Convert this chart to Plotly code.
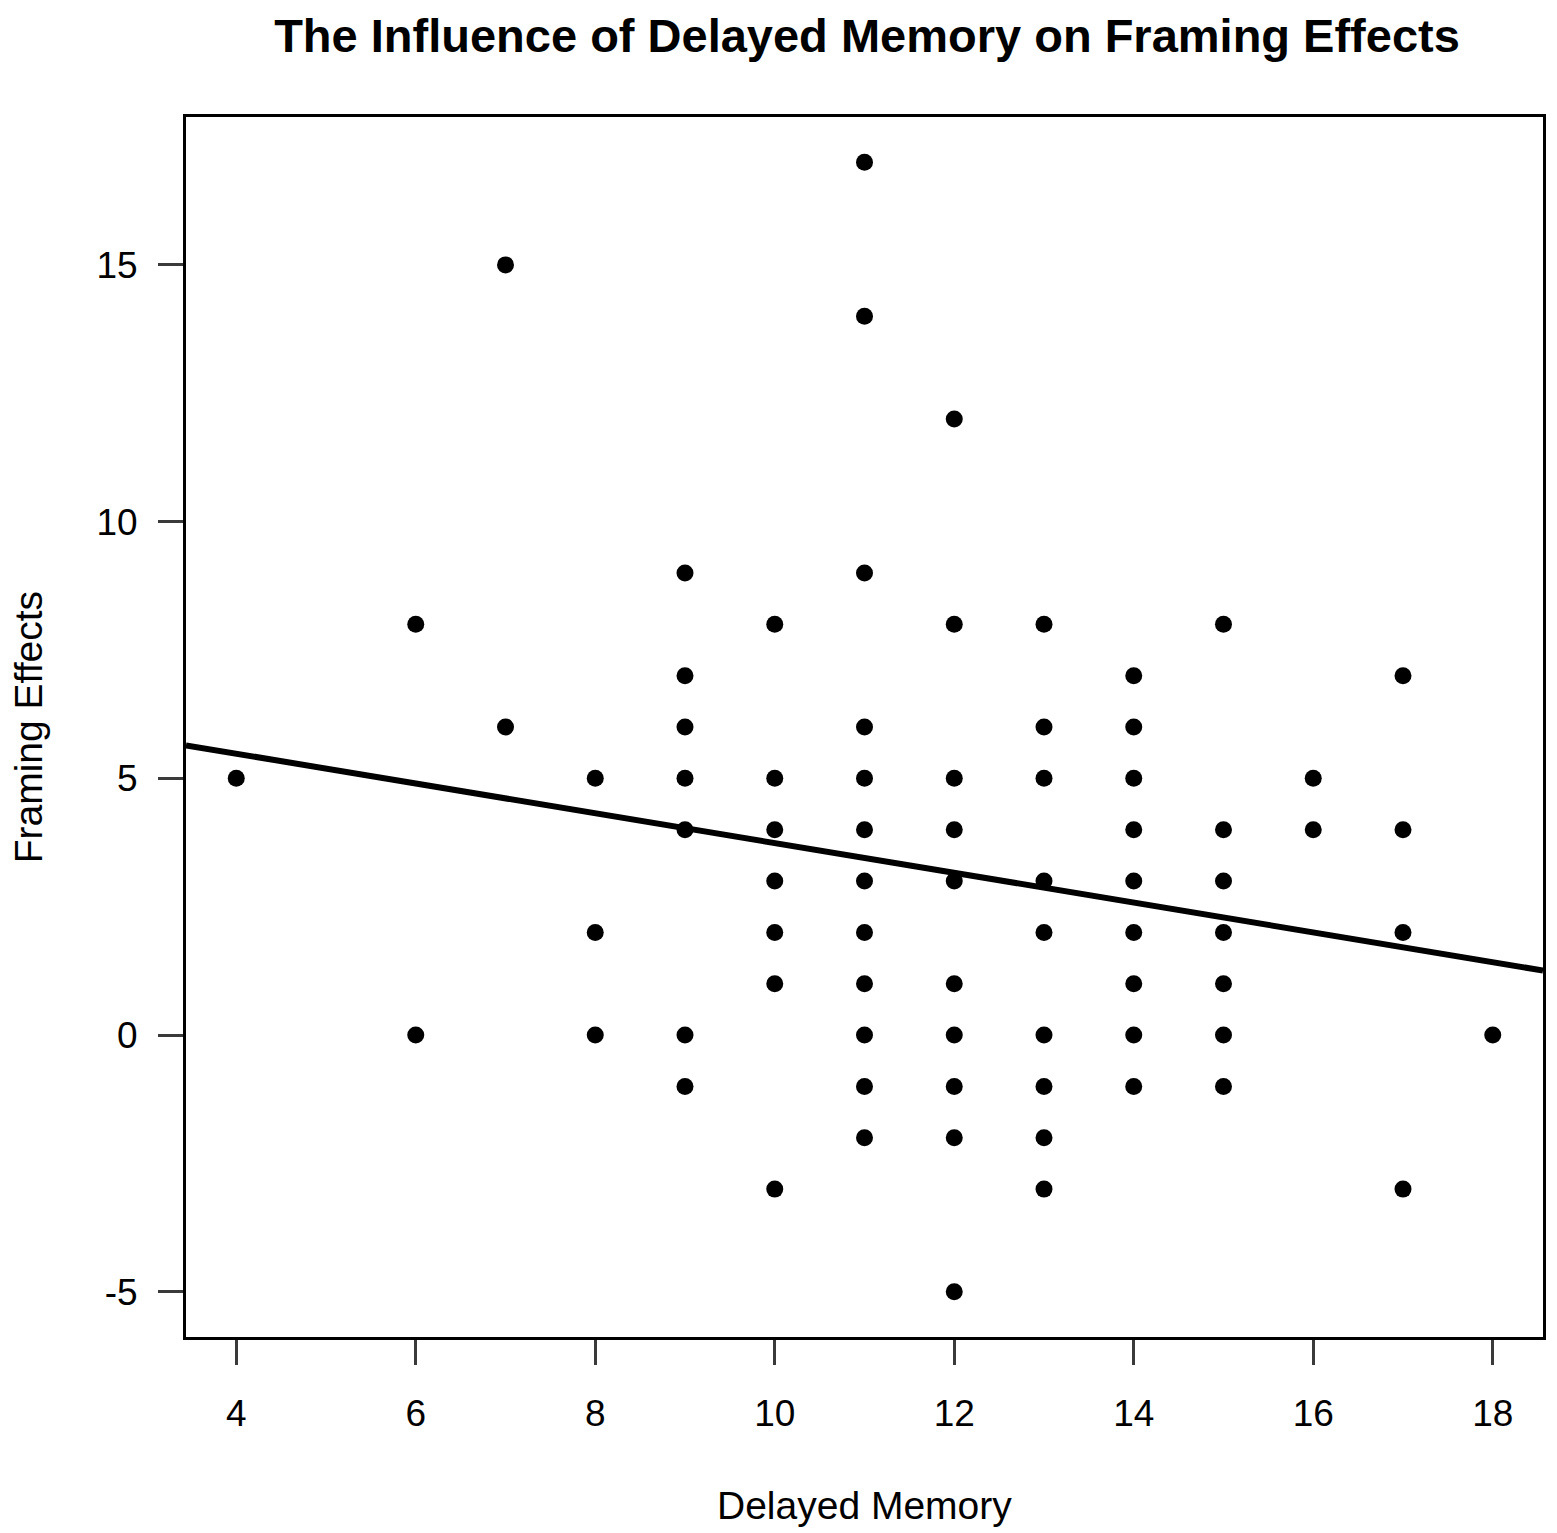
import plotly.graph_objects as go

# --- data (one column of y values per x) ---
delayed_memory = [4, 6, 7, 8, 9, 10, 11, 12, 13, 14, 15, 16, 17, 18]
framing_by_memory = [
    [5],
    [8, 0],
    [15, 6],
    [5, 2, 0],
    [9, 7, 6, 5, 4, 0, -1],
    [8, 5, 4, 3, 2, 1, -3],
    [17, 14, 9, 6, 5, 4, 3, 2, 1, 0, -1, -2],
    [12, 8, 5, 4, 3, 1, 0, -1, -2, -5],
    [8, 6, 5, 3, 2, 0, -1, -2, -3],
    [7, 6, 5, 4, 3, 2, 1, 0, -1],
    [8, 4, 3, 2, 1, 0, -1],
    [5, 4],
    [7, 4, 2, -3],
    [0],
]

# fitted line (abline)
fit_intercept = 6.64
fit_slope = -0.29

x_ticks = [4, 6, 8, 10, 12, 14, 16, 18]
y_ticks = [-5, 0, 5, 10, 15]
y_tick_text = ["-5", "0", "5", "10", "15"]  # plain hyphen like R

# flatten into point lists
xs, ys = [], []
for x, col in zip(delayed_memory, framing_by_memory):
    for y in col:
        xs.append(x)
        ys.append(y)

# R-style axis range: data range padded by 4% each side
def r_range(vals):
    lo, hi = min(vals), max(vals)
    pad = (hi - lo) * 0.04
    return [lo - pad, hi + pad]

x_range = r_range(xs)
y_range = r_range(ys)

FONT = "Liberation Sans, Arial, sans-serif"

# page body has an 8px margin, so the figure is a bit smaller than the window
W, H = 1549, 1525

fig = go.Figure()

# regression line across the whole plot region
fig.add_trace(go.Scatter(
    x=x_range,
    y=[fit_intercept + fit_slope * v for v in x_range],
    mode="lines",
    line=dict(color="black", width=6),
    hoverinfo="skip",
))

fig.add_trace(go.Scatter(
    x=xs, y=ys,
    mode="markers",
    marker=dict(color="black", size=17, symbol="circle"),
))

axis_common = dict(
    showgrid=False,
    zeroline=False,
    showline=True,
    mirror=True,
    linecolor="black",
    linewidth=3,
    ticks="outside",
    ticklen=25,
    tickwidth=2.5,
    tickcolor="#3a3a3a",
    tickfont=dict(family=FONT, size=37, color="black"),
)

fig.update_layout(
    width=W,
    height=H,
    showlegend=False,
    plot_bgcolor="white",
    paper_bgcolor="white",
    margin=dict(l=178, r=11, t=109, b=196),
    title=dict(
        text="<b>The Influence of Delayed Memory on Framing Effects</b>",
        font=dict(family=FONT, size=47, color="black"),
        x=859 / W, xanchor="center",
        y=1 - 28 / H, yanchor="middle",
    ),
    xaxis=dict(axis_common, range=x_range, tickvals=x_ticks, ticklabelstandoff=17),
    yaxis=dict(axis_common, range=y_range, tickvals=y_ticks, ticktext=y_tick_text,
               ticklabelstandoff=13),
    annotations=[
        dict(text="Delayed Memory", xref="paper", yref="paper",
             x=0.5, y=-168 / 1220, xanchor="center", yanchor="middle",
             showarrow=False, font=dict(family=FONT, size=39, color="black")),
        dict(text="Framing Effects", xref="paper", yref="paper",
             x=-158 / 1360, y=0.5, xanchor="center", yanchor="middle",
             textangle=-90, showarrow=False,
             font=dict(family=FONT, size=39, color="black")),
    ],
)

fig.write_html("out.html")
